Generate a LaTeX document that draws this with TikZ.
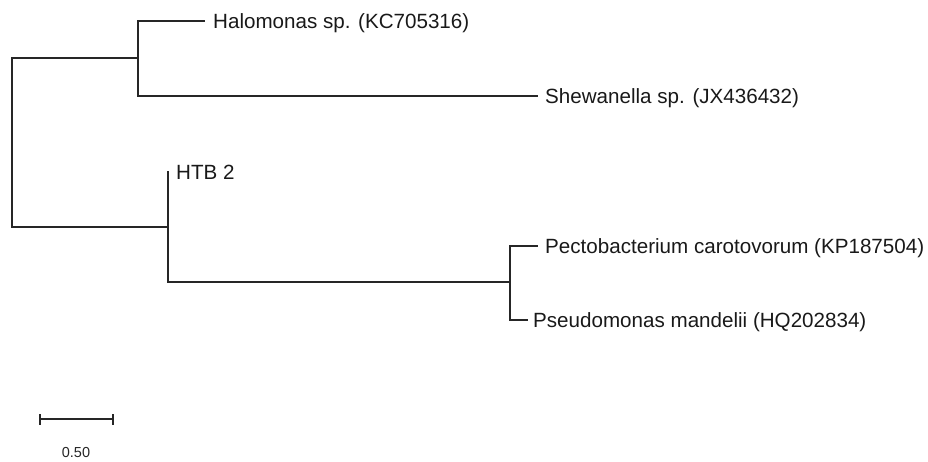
\documentclass[tikz,border=0pt]{standalone}
\usepackage{fontspec}
\setmainfont{Liberation Sans}
\begin{document}
\begin{tikzpicture}[x=1pt,y=-1pt,
  branch/.style={line width=1.2pt, draw=black!85, line cap=rect},
  leaf/.style={anchor=base west, yshift=-7.4pt, inner sep=0pt, font=\fontsize{20.6}{24}\selectfont, text=black!90},
  scalelbl/.style={inner sep=0pt, font=\fontsize{14.5}{17}\selectfont, text=black!85}]
\useasboundingbox (0,0) rectangle (928,462);
% internal nodes
\coordinate (rt) at (12,58);
\coordinate (rb) at (12,227);
\coordinate (n1) at (138,58);
\coordinate (n1t) at (138,21);
\coordinate (n1b) at (138,96);
\coordinate (n2) at (168,227);
\coordinate (n2t) at (168,172);
\coordinate (n2b) at (168,282);
\coordinate (n3) at (510,282);
\coordinate (n3t) at (510,246);
\coordinate (n3b) at (510,320);
% leaf ends
\coordinate (eH) at (204,21);
\coordinate (eS) at (537,96);
\coordinate (eP) at (537,246);
\coordinate (eM) at (527,320);
% labels
\node[leaf] (H) at (213,21) {Halomonas sp. (KC705316)};
\node[leaf] (S) at (545,96) {Shewanella sp. (JX436432)};
\node[leaf] (T) at (176,172) {HTB 2};
\node[leaf] (P) at (545,246) {Pectobacterium carotovorum (KP187504)};
\node[leaf] (M) at (533,320) {Pseudomonas mandelii (HQ202834)};
% branches
\draw[branch] (n1) -- (rt) -- (rb) -- (n2);
\draw[branch] (eH) -- (n1t) -- (n1b) -- (eS);
\draw[branch] (n2t) -- (n2b) -- (n3);
\draw[branch] (eP) -- (n3t) -- (n3b) -- (eM);
% scale bar
\coordinate (sa) at (40,419);
\coordinate (sb) at (113,419);
\draw[branch, line cap=butt] (sa) -- (sb);
\draw[branch, line cap=butt] ([yshift=-5.5pt]sa) -- ([yshift=5.5pt]sa);
\draw[branch, line cap=butt] ([yshift=-5.5pt]sb) -- ([yshift=5.5pt]sb);
\node[scalelbl] (sl) at (76,453) {0.50};
\end{tikzpicture}
\end{document}
